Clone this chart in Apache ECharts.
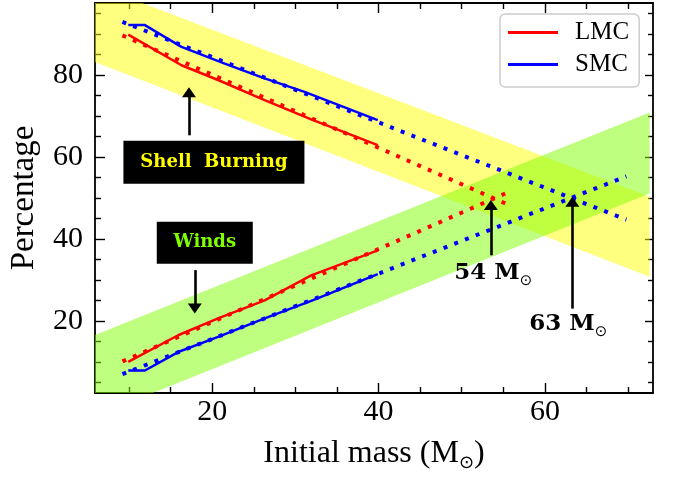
<!DOCTYPE html>
<html>
<head>
<meta charset="utf-8">
<script src="https://cdn.jsdelivr.net/npm/echarts@6/dist/echarts.min.js"></script>
<style>html,body{margin:0;padding:0;background:#fff;}#chart{width:681px;height:477px;}</style>
</head>
<body>
<div id="chart"></div>
<script>
// ---- data ----
const lmcShellMass = [9.9, 16.3, 20.7, 26.3, 31.9, 39.9];
const lmcShell     = [89.9, 82.4, 78.8, 73.9, 69.2, 62.9];
const lmcWindsMass = [9.9, 15.9, 20.7, 26.3, 31.9, 39.9];
const lmcWinds     = [10.0, 16.5, 20.6, 25.0, 31.1, 37.2];
const smcShellMass = [9.9, 11.9, 16.3, 21.5, 26.3, 31.1, 39.9];
const smcShell     = [92.2, 92.2, 86.9, 82.8, 79.2, 75.9, 69.0];
const smcWindsMass = [9.9, 11.9, 15.9, 20.7, 26.3, 31.9, 39.9];
const smcWinds     = [7.9, 7.9, 12.4, 16.1, 20.6, 24.9, 31.4];
// linear fits (dotted)
const lmcFitMass  = [9.2, 55.9];
const lmcFitShell = [89.7, 48.1];
const lmcFitWinds = [10.1, 51.7];
const smcFitMass  = [9.2, 69.8];
const smcFitShell = [93.0, 44.7];
const smcFitWinds = [7.0, 55.3];
// shaded bands: [x start, x end], lower and upper edge at both ends
const bandMass      = [5.0, 72.6];
const shellBandLow  = [83.9, 30.8];
const shellBandHigh = [102.7, 50.3];
const windsBandLow  = [-4.0, 51.1];
const windsBandHigh = [15.8, 70.9];
// ticks
const massMajor = [20, 40, 60];
const massMinor = [10, 15, 25, 30, 35, 45, 50, 55, 65, 70];
const pctMajor  = [20, 40, 60, 80];
const pctMinor  = [5, 10, 15, 25, 30, 35, 45, 50, 55, 65, 70, 75, 85, 90, 95];
const xRange = [5.9, 73.0];
const yRange = [2.4, 97.6];
// annotations
const arrowFrom = [[17.2, 65.3], [17.9, 32.4], [53.5, 36.0], [63.3, 23.0]];
const arrowTo   = [[17.2, 75.8], [17.9, 23.0], [53.5, 48.3], [63.3, 49.1]];
const boxText   = ['Shell  Burning', 'Winds'];
const boxPos    = [[20.2, 58.7], [19.1, 39.1]];
const massText  = ['54', '63'];
const massPos   = [[53.8, 31.6], [62.8, 19.2]];

const chart = echarts.init(document.getElementById('chart'), null, {renderer: 'canvas'});
const SERIF = 'Liberation Serif';

function pairs(xs, ys) { return xs.map((x, i) => [x, ys[i]]); }

function makeAxis(pos, min, max, major, withLine, withLabel, tickLen, ticks) {
  return {
    type: 'value', position: pos, min: min, max: max,
    splitLine: {show: false},
    axisLine: {show: withLine, onZero: false, lineStyle: {color: '#000', width: 1.8}},
    axisTick: {show: true, inside: true, length: tickLen, customValues: ticks, lineStyle: {color: '#000', width: 1.4}},
    axisLabel: withLabel ? {show: true, customValues: major, fontFamily: SERIF, fontSize: 30, color: '#000', margin: (pos === 'left' ? 12 : 4)} : {show: false}
  };
}

const xMain = makeAxis('bottom', xRange[0], xRange[1], massMajor, true, true, 10, massMajor);
xMain.name = '{a|Initial mass (M}{s|⊙}{a|)}';
xMain.nameLocation = 'middle';
xMain.nameGap = 43;
xMain.nameTextStyle = {rich: {
  a: {fontFamily: SERIF, fontSize: 32, color: '#000', lineHeight: 36, verticalAlign: 'middle'},
  s: {fontFamily: 'DejaVu Sans', fontSize: 18, color: '#000', lineHeight: 19, verticalAlign: 'bottom'}
}};
const yMain = makeAxis('left', yRange[0], yRange[1], pctMajor, true, true, 10, pctMajor);
yMain.name = 'Percentage';
yMain.nameLocation = 'middle';
yMain.nameGap = 54;
yMain.nameTextStyle = {fontFamily: SERIF, fontSize: 33, color: '#000'};

const dotted = {width: 4, type: [4, 7.5], cap: 'butt'};

const option = {
  animation: false,
  backgroundColor: '#fff',
  grid: {left: 93, right: 28, top: 3, bottom: 84, containLabel: false},
  xAxis: [
    xMain,
    makeAxis('bottom', xRange[0], xRange[1], massMajor, false, false, 6, massMinor),
    makeAxis('top', xRange[0], xRange[1], massMajor, true, false, 10, massMajor),
    makeAxis('top', xRange[0], xRange[1], massMajor, false, false, 6, massMinor)
  ],
  yAxis: [
    yMain,
    makeAxis('left', yRange[0], yRange[1], pctMajor, false, false, 6, pctMinor),
    makeAxis('right', yRange[0], yRange[1], pctMajor, true, false, 8, pctMajor),
    makeAxis('right', yRange[0], yRange[1], pctMajor, false, false, 5, pctMinor)
  ],
  legend: {
    data: ['LMC', 'SMC'],
    orient: 'vertical',
    left: 500, top: 14,
    padding: [6, 10, 10, 8],
    itemWidth: 50, itemHeight: 2.8, itemGap: 7,
    icon: 'rect',
    backgroundColor: 'rgba(255,255,255,0.85)',
    borderColor: '#cccccc', borderWidth: 1.5, borderRadius: 5,
    textStyle: {fontFamily: SERIF, fontSize: 25, color: '#000', lineHeight: 25, padding: [0, 0, 0, 12]}
  },
  series: [
    {
      type: 'custom', name: 'bands', clip: true, silent: true,
      encode: {x: [0, 2], y: [1, 3, 4, 5]},
      data: [
        [bandMass[0], shellBandLow[0], bandMass[1], shellBandLow[1], shellBandHigh[1], shellBandHigh[0]],
        [bandMass[0], windsBandLow[0], bandMass[1], windsBandLow[1], windsBandHigh[1], windsBandHigh[0]]
      ],
      renderItem: function (params, api) {
        const fills = ['#ffff00', '#7fff00'];
        const pts = [
          api.coord([api.value(0), api.value(1)]),
          api.coord([api.value(2), api.value(3)]),
          api.coord([api.value(2), api.value(4)]),
          api.coord([api.value(0), api.value(5)])
        ];
        return {type: 'polygon', shape: {points: pts}, style: {fill: fills[params.dataIndex], opacity: 0.5}};
      },
      z: 1
    },
    {type: 'line', name: 'LMC', data: pairs(lmcShellMass, lmcShell), showSymbol: false, color: '#ff0000', lineStyle: {color: '#ff0000', width: 2.5}, z: 3},
    {type: 'line', name: 'LMC', data: pairs(lmcWindsMass, lmcWinds), showSymbol: false, color: '#ff0000', lineStyle: {color: '#ff0000', width: 2.5}, z: 3},
    {type: 'line', name: 'SMC', data: pairs(smcShellMass, smcShell), showSymbol: false, color: '#0000ff', lineStyle: {color: '#0000ff', width: 2.5}, z: 3},
    {type: 'line', name: 'SMC', data: pairs(smcWindsMass, smcWinds), showSymbol: false, color: '#0000ff', lineStyle: {color: '#0000ff', width: 2.5}, z: 3},
    {type: 'line', name: 'LMC fit shell', data: pairs(lmcFitMass, lmcFitShell), showSymbol: false, color: '#ff0000', lineStyle: Object.assign({color: '#ff0000'}, dotted), z: 4},
    {type: 'line', name: 'LMC fit winds', data: pairs(lmcFitMass, lmcFitWinds), showSymbol: false, color: '#ff0000', lineStyle: Object.assign({color: '#ff0000'}, dotted), z: 4},
    {type: 'line', name: 'SMC fit shell', data: pairs(smcFitMass, smcFitShell), showSymbol: false, color: '#0000ff', lineStyle: Object.assign({color: '#0000ff'}, dotted), z: 4},
    {type: 'line', name: 'SMC fit winds', data: pairs(smcFitMass, smcFitWinds), showSymbol: false, color: '#0000ff', lineStyle: Object.assign({color: '#0000ff'}, dotted), z: 4},
    {
      type: 'scatter', name: 'annotations', data: [], silent: true, z: 5,
      markLine: {
        silent: true, animation: false,
        symbol: ['none', 'triangle'],
        symbolSize: [1, 13],
        lineStyle: {color: '#000', width: 2.6, type: 'solid'},
        label: {show: false},
        emphasis: {disabled: true},
        data: arrowFrom.map((p, i) => [
          {coord: p, symbol: 'none'},
          {coord: arrowTo[i], symbol: 'triangle', symbolSize: [14, 10]}
        ])
      },
      markPoint: {
        silent: true, animation: false,
        data: [
          {coord: boxPos[0], symbol: 'rect', symbolSize: [181, 43], itemStyle: {color: '#000'},
           label: {show: true, position: 'inside', formatter: boxText[0], color: '#ffff00', fontFamily: 'DejaVu Serif', fontWeight: 'bold', fontSize: 18}},
          {coord: boxPos[1], symbol: 'rect', symbolSize: [96, 42], itemStyle: {color: '#000'},
           label: {show: true, position: 'inside', formatter: boxText[1], color: '#7fff00', fontFamily: 'DejaVu Serif', fontWeight: 'bold', fontSize: 18}}
        ].concat(massPos.map((p, i) => ({
          coord: p, symbol: 'rect', symbolSize: 1, itemStyle: {color: 'rgba(0,0,0,0)'},
          label: {
            show: true, position: 'inside', formatter: '{b|' + massText[i] + ' M}{s|⊙}',
            rich: {
              b: {fontFamily: 'DejaVu Serif', fontWeight: 'bold', fontSize: 23, color: '#000', lineHeight: 30, verticalAlign: 'middle'},
              s: {fontFamily: 'DejaVu Sans', fontSize: 15, color: '#000', lineHeight: 16, verticalAlign: 'bottom'}
            }
          }
        })))
      }
    }
  ]
};
chart.setOption(option);
</script>
</body>
</html>
